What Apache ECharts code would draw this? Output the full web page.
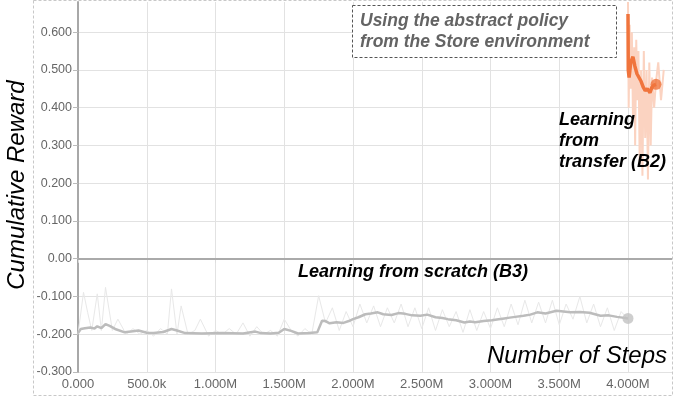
<!DOCTYPE html>
<html>
<head>
<meta charset="utf-8">
<script src="https://cdn.jsdelivr.net/npm/echarts@6/dist/echarts.min.js"></script>
<style>
  html, body { margin: 0; padding: 0; background: #fff; }
  #main { width: 699px; height: 398px; }
</style>
</head>
<body>
<div id="main"></div>
<script>
// steps in millions, rewards
var scratchSteps = [0, 0.02, 0.05, 0.09, 0.12, 0.14, 0.17, 0.2, 0.23, 0.27, 0.34, 0.4, 0.44, 0.5, 0.55, 0.62, 0.68, 0.72, 0.78, 0.9, 1.05, 1.2, 1.29, 1.33, 1.4, 1.46, 1.5, 1.55, 1.6, 1.68, 1.74, 1.775, 1.8, 1.83, 1.88, 1.93, 1.97, 2.0, 2.04, 2.09, 2.13, 2.18, 2.22, 2.28, 2.33, 2.38, 2.43, 2.49, 2.54, 2.6, 2.65, 2.69, 2.75, 2.81, 2.85, 2.89, 2.95, 3.01, 3.06, 3.1, 3.14, 3.18, 3.24, 3.29, 3.34, 3.4, 3.48, 3.53, 3.58, 3.65, 3.72, 3.76, 3.8, 3.86, 3.92, 3.96, 4.0]
var scratchSmooth = [-0.197, -0.186, -0.184, -0.182, -0.185, -0.179, -0.184, -0.173, -0.178, -0.186, -0.195, -0.192, -0.19, -0.196, -0.197, -0.194, -0.186, -0.19, -0.197, -0.198, -0.197, -0.198, -0.193, -0.197, -0.198, -0.196, -0.186, -0.191, -0.198, -0.197, -0.195, -0.164, -0.165, -0.171, -0.168, -0.17, -0.165, -0.16, -0.155, -0.147, -0.145, -0.142, -0.147, -0.149, -0.144, -0.146, -0.15, -0.151, -0.148, -0.155, -0.157, -0.16, -0.163, -0.169, -0.166, -0.168, -0.165, -0.163, -0.16, -0.158, -0.156, -0.154, -0.151, -0.148, -0.142, -0.145, -0.138, -0.14, -0.142, -0.141, -0.143, -0.147, -0.151, -0.15, -0.154, -0.156, -0.158]

var scratchRawSteps = [0, 0.04, 0.07, 0.1, 0.14, 0.17, 0.2, 0.25, 0.29, 0.35, 0.4, 0.45, 0.5, 0.55, 0.6, 0.65, 0.68, 0.72, 0.75, 0.8, 0.85, 0.89, 0.95, 1.0, 1.05, 1.1, 1.15, 1.2, 1.25, 1.3, 1.35, 1.4, 1.45, 1.5, 1.55, 1.6, 1.65, 1.7, 1.75, 1.8, 1.85, 1.9, 1.95, 2.0, 2.05, 2.1, 2.15, 2.2, 2.25, 2.3, 2.35, 2.4, 2.45, 2.5, 2.55, 2.6, 2.65, 2.7, 2.75, 2.8, 2.85, 2.9, 2.95, 3.0, 3.05, 3.1, 3.15, 3.2, 3.25, 3.3, 3.35, 3.4, 3.45, 3.5, 3.55, 3.6, 3.65, 3.7, 3.75, 3.8, 3.85, 3.9, 3.95, 4.0]
var scratchRaw = [-0.2, -0.089, -0.142, -0.19, -0.093, -0.19, -0.076, -0.19, -0.16, -0.2, -0.185, -0.2, -0.19, -0.205, -0.185, -0.2, -0.08, -0.2, -0.125, -0.2, -0.19, -0.16, -0.205, -0.19, -0.2, -0.185, -0.2, -0.17, -0.205, -0.18, -0.2, -0.19, -0.205, -0.16, -0.19, -0.205, -0.185, -0.2, -0.098, -0.17, -0.13, -0.19, -0.14, -0.18, -0.12, -0.17, -0.125, -0.18, -0.13, -0.17, -0.12, -0.18, -0.13, -0.185, -0.13, -0.19, -0.135, -0.18, -0.14, -0.195, -0.135, -0.19, -0.14, -0.185, -0.13, -0.18, -0.12, -0.175, -0.11, -0.17, -0.115, -0.17, -0.11, -0.175, -0.12, -0.16, -0.1, -0.17, -0.12, -0.18, -0.13, -0.19, -0.14, -0.16]

var transferSteps = [4.0, 4.002, 4.008, 4.02, 4.036, 4.05, 4.065, 4.08, 4.095, 4.11, 4.125, 4.14, 4.16, 4.175, 4.19, 4.204]
var transferSmooth = [0.648, 0.5, 0.48, 0.52, 0.535, 0.51, 0.49, 0.48, 0.47, 0.455, 0.445, 0.45, 0.44, 0.455, 0.46, 0.462]

var transferRawSteps = [4.0, 4.005, 4.012, 4.02, 4.028, 4.036, 4.045, 4.052, 4.06, 4.068, 4.076, 4.085, 4.095, 4.105, 4.115, 4.125, 4.135, 4.145, 4.155, 4.165, 4.175, 4.19, 4.204, 4.22, 4.24, 4.26]
var transferRaw = [0.68, 0.4, 0.62, 0.45, 0.6, 0.38, 0.56, 0.3, 0.58, 0.42, 0.55, 0.25, 0.5, 0.22, 0.55, 0.32, 0.5, 0.21, 0.52, 0.3, 0.48, 0.4, 0.47, 0.52, 0.42, 0.5]

var xTickStep = 500000
var yTickStep = 0.1

function pairs (xs, ys) {
  return xs.map(function (x, i) { return [x * 1e6, ys[i]] })
}

function fmtX (v) {
  if (v % xTickStep !== 0) return ''
  if (v === 0) return '0.000'
  if (v < 1e6) return (v / 1000).toFixed(1) + 'k'
  return (v / 1e6).toFixed(3) + 'M'
}
function fmtY (v) {
  if (Math.abs(v / yTickStep - Math.round(v / yTickStep)) > 1e-6) return ''
  if (Math.abs(v) < 1e-9) return '0.00'
  return v.toFixed(3)
}

var font = 'Liberation Sans'
var chart = echarts.init(document.getElementById('main'))

var option = {
  animation: false,
  backgroundColor: '#fff',
  grid: { left: 78, right: 27, top: 2, bottom: 26 },
  xAxis: {
    type: 'value',
    min: 0,
    max: 4320000,
    interval: xTickStep,
    axisLine: { show: false },
    axisTick: { show: true, length: 4, lineStyle: { color: '#ddd' } },
    axisLabel: { formatter: fmtX, color: '#666', fontSize: 13, fontFamily: font, margin: 6, showMaxLabel: false },
    splitLine: { show: true, showMaxLine: false, lineStyle: { color: '#e2e2e2', width: 1 } }
  },
  yAxis: {
    type: 'value',
    min: -0.3,
    max: 0.68,
    interval: yTickStep,
    axisLine: { show: true, onZero: false, lineStyle: { color: '#a8a8a8', width: 2 } },
    axisTick: { show: true, length: 5, lineStyle: { color: '#bbb' } },
    axisLabel: { formatter: fmtY, color: '#666', fontSize: 12.5, fontFamily: font, margin: 6, showMaxLabel: false },
    splitLine: { show: true, showMaxLine: false, lineStyle: { color: '#e2e2e2', width: 1 } }
  },
  series: [
    {
      name: 'scratch raw',
      type: 'line',
      symbol: 'none',
      data: pairs(scratchRawSteps, scratchRaw),
      lineStyle: { color: '#e8e8e8', width: 1 },
      z: 1,
      markLine: {
        silent: true,
        symbol: 'none',
        label: { show: false },
        lineStyle: { color: '#aaa', width: 2, type: 'solid' },
        data: [{ yAxis: 0 }]
      }
    },
    {
      name: 'scratch',
      type: 'line',
      symbol: 'none',
      data: pairs(scratchSteps, scratchSmooth),
      lineStyle: { color: '#bcbcbc', width: 2.5 },
      z: 3
    },
    {
      name: 'scratch end',
      type: 'scatter',
      symbolSize: 11,
      data: pairs(scratchSteps, scratchSmooth).slice(-1),
      itemStyle: { color: '#c2c2c2' },
      z: 4
    },
    {
      name: 'transfer raw',
      type: 'line',
      symbol: 'none',
      data: pairs(transferRawSteps, transferRaw),
      lineStyle: { color: '#fbd3c1', width: 2 },
      z: 2
    },
    {
      name: 'transfer',
      type: 'line',
      symbol: 'none',
      data: pairs(transferSteps, transferSmooth),
      lineStyle: { color: '#f0743c', width: 3.5 },
      z: 5
    },
    {
      name: 'transfer end',
      type: 'scatter',
      symbolSize: 11,
      data: pairs(transferSteps, transferSmooth).slice(-1),
      itemStyle: { color: '#f0743c' },
      z: 6
    }
  ],
  graphic: [
    // outer dashed frame
    {
      type: 'rect',
      shape: { x: 33.5, y: 0.5, width: 639, height: 395 },
      style: { fill: null, stroke: '#c8c8c8', lineWidth: 1, lineDash: [3, 2] },
      silent: true, z: 0
    },
    // annotation box
    {
      type: 'rect',
      shape: { x: 352.5, y: 5.5, width: 264, height: 52 },
      style: { fill: '#fff', stroke: '#555', lineWidth: 1, lineDash: [3, 2] },
      z: 10
    },
    {
      type: 'text', left: 360, top: 11, z: 11,
      style: { text: 'Using the abstract policy\nfrom the Store environment', fill: '#646464', font: 'italic 600 17.5px "Liberation Sans"', lineHeight: 21 }
    },
    {
      type: 'text', left: 559, top: 110, z: 11,
      style: { text: 'Learning\nfrom\ntransfer (B2)', fill: '#000', font: 'italic bold 18px "Liberation Sans"', lineHeight: 21 }
    },
    {
      type: 'text', left: 298, top: 263, z: 11,
      style: { text: 'Learning from scratch (B3)', fill: '#000', font: 'italic bold 18px "Liberation Sans"' }
    },
    {
      type: 'text', right: 32, top: 344, z: 11,
      style: { text: 'Number of Steps', fill: '#000', font: 'italic 24px "Liberation Sans"' }
    },
    {
      type: 'text', x: 17, y: 185, rotation: Math.PI / 2, z: 11,
      style: { text: 'Cumulative Reward', fill: '#000', font: 'italic 24px "Liberation Sans"', align: 'center', verticalAlign: 'middle' }
    }
  ]
}

chart.setOption(option)
</script>
</body>
</html>
